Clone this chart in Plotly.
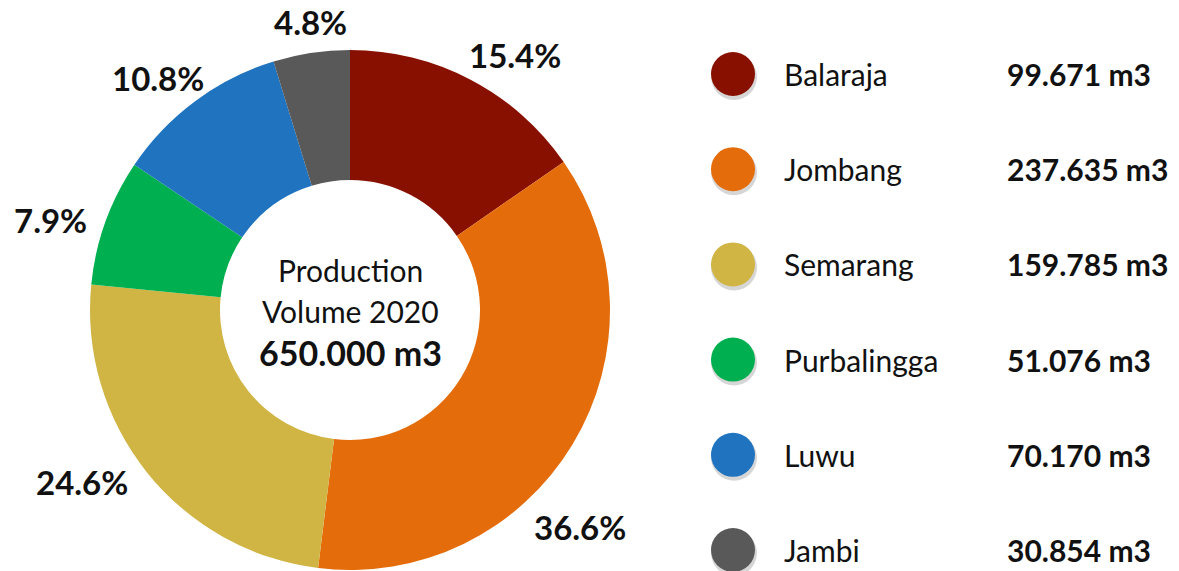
import math
import plotly.graph_objects as go

# Production volume per site (m3)
sites = ["Balaraja", "Jombang", "Semarang", "Purbalingga", "Luwu", "Jambi"]
volumes = [99671, 237635, 159785, 51076, 70170, 30854]
colors = ["#881000", "#E46C0A", "#D0B444", "#00B050", "#1F73BF", "#595959"]
total_label = 650000
center_title = ["Production", "Volume 2020"]

W, H = 1179, 571
FONT = "Lato, 'Open Sans', sans-serif"

# donut geometry in pixels
CX, CY, R = 350, 310, 260

# label offsets (px) from each slice's outer edge midpoint
label_shift = [(44, -25), (8, 82), (-65, 10), (-55, -2), (-37, -23), (-1, -31)]


def fmt_m3(v):
    return f"{v:,}".replace(",", ".") + " m3"


def px(x):
    return x / W


def py(y):
    return 1 - y / H


fig = go.Figure()

fig.add_trace(go.Pie(
    labels=sites,
    values=volumes,
    hole=0.5,
    sort=False,
    direction="clockwise",
    rotation=0,
    marker=dict(colors=colors, line=dict(width=0)),
    textinfo="none",
    hoverinfo="label+value+percent",
    showlegend=False,
    domain=dict(x=[px(CX - R), px(CX + R)], y=[py(CY + R), py(CY - R)]),
))

# percentage labels outside the ring
tot = sum(volumes)
cum = 0.0
annotations = []
for v, (dx, dy) in zip(volumes, label_shift):
    frac = v / tot
    mid = (cum + frac / 2) * 2 * math.pi
    cum += frac
    ex = CX + R * math.sin(mid)
    ey = CY - R * math.cos(mid)
    annotations.append(dict(
        x=px(ex), y=py(ey), xref="paper", yref="paper",
        text=f"<b>{frac * 100:.1f}%</b>",
        showarrow=True, arrowcolor="rgba(0,0,0,0)", arrowwidth=0.1,
        ax=dx, ay=dy, xanchor="center", yanchor="middle",
        font=dict(family=FONT, size=33, color="#111111"),
    ))

# centre text
centre_lines = [
    (270, center_title[0], 30),
    (311, center_title[1], 30),
    (352, f"<b>{fmt_m3(total_label)}</b>", 34),
]
for y, txt, size in centre_lines:
    annotations.append(dict(x=px(CX), y=py(y), xref="paper", yref="paper",
                            text=txt, showarrow=False,
                            xanchor="center", yanchor="middle",
                            font=dict(family=FONT, size=size, color="#111111")))

# custom legend on the right
ROW0, ROW_STEP = 74, 95.2
rows = [ROW0 + i * ROW_STEP for i in range(len(sites))]
LEG_X, NAME_X, VAL_X = 733, 782, 1005

fig.add_trace(go.Scatter(
    x=[LEG_X + 1] * len(sites), y=[r + 3 for r in rows],
    mode="markers",
    marker=dict(size=46, color="rgba(0,0,0,0.16)", line=dict(width=0)),
    hoverinfo="skip", showlegend=False, xaxis="x", yaxis="y",
))
fig.add_trace(go.Scatter(
    x=[LEG_X] * len(sites), y=rows,
    mode="markers",
    marker=dict(size=44, color=colors, line=dict(width=0)),
    text=sites, hoverinfo="text", showlegend=False, xaxis="x", yaxis="y",
))

for name, v, r in zip(sites, volumes, rows):
    annotations.append(dict(x=px(NAME_X), y=py(r), xref="paper", yref="paper",
                            text=name, showarrow=False, xanchor="left", yanchor="middle",
                            font=dict(family=FONT, size=30, color="#111111")))
    annotations.append(dict(x=px(VAL_X), y=py(r), xref="paper", yref="paper",
                            text=f"<b>{fmt_m3(v)}</b>", showarrow=False,
                            xanchor="left", yanchor="middle",
                            font=dict(family=FONT, size=30, color="#111111")))

fig.update_layout(
    width=W, height=H,
    margin=dict(l=0, r=0, t=0, b=0),
    paper_bgcolor="white", plot_bgcolor="rgba(0,0,0,0)",
    xaxis=dict(range=[0, W], domain=[0, 1], visible=False, fixedrange=True),
    yaxis=dict(range=[H, 0], domain=[0, 1], visible=False, fixedrange=True),
    annotations=annotations,
    showlegend=False,
)

fig.write_html("out.html")
